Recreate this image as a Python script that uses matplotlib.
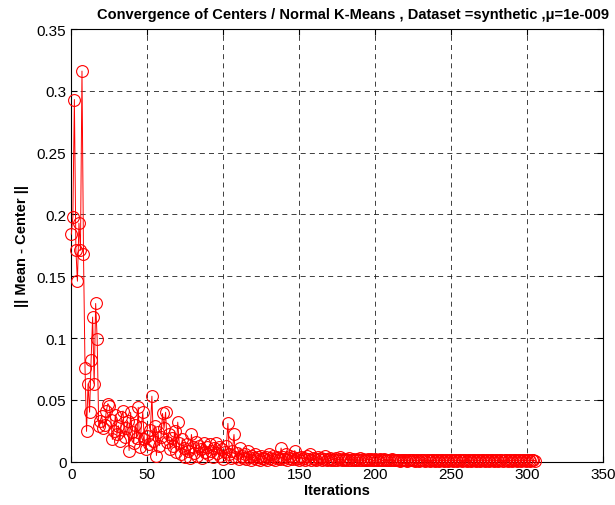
import numpy as np
import matplotlib
matplotlib.use("Agg")
import matplotlib.pyplot as plt
from matplotlib.ticker import FuncFormatter

# distance between mean and center per iteration
dist_start = [
    0.184, 0.198, 0.293, 0.171, 0.146, 0.193, 0.171, 0.316, 0.168, 0.076,
    0.0245, 0.063, 0.040, 0.082, 0.117, 0.063, 0.128, 0.099, 0.029, 0.033,
    0.037, 0.027, 0.030, 0.041, 0.047, 0.045, 0.034, 0.018, 0.025, 0.038,
    0.022, 0.029, 0.017, 0.036, 0.041, 0.020, 0.027, 0.033, 0.009, 0.040,
    0.024, 0.015, 0.030, 0.019, 0.044, 0.012, 0.028, 0.040, 0.018, 0.010,
    0.021, 0.014, 0.026, 0.053, 0.017, 0.029, 0.005, 0.024, 0.013, 0.020,
]
dist_middle = [
    0.039, 0.027, 0.040, 0.016, 0.022, 0.010, 0.019, 0.013, 0.025, 0.008,
    0.032, 0.015, 0.006, 0.018, 0.011, 0.004, 0.014, 0.009, 0.003, 0.022,
    0.012, 0.007, 0.016, 0.005, 0.013, 0.010, 0.003, 0.015, 0.008, 0.012,
    0.006, 0.014, 0.009, 0.004, 0.011, 0.015, 0.007, 0.012, 0.005, 0.010,
    0.002, 0.008, 0.013, 0.031, 0.006, 0.003, 0.009, 0.022, 0.004, 0.007,
    0.002, 0.011, 0.005, 0.003, 0.006, 0.002, 0.009, 0.004, 0.001, 0.005,
    0.003, 0.006, 0.002, 0.004, 0.001, 0.005, 0.003, 0.002, 0.004, 0.001,
    0.006, 0.003, 0.002, 0.005, 0.001, 0.004, 0.003, 0.002, 0.011, 0.004,
    0.002, 0.006, 0.001, 0.003, 0.005, 0.002, 0.004, 0.009, 0.002, 0.003,
    0.001, 0.004, 0.002, 0.003, 0.001, 0.005, 0.002, 0.006, 0.001, 0.003,
    0.002, 0.001, 0.004, 0.002, 0.003, 0.001, 0.002, 0.005, 0.001, 0.002,
    0.003, 0.001, 0.002, 0.001, 0.003, 0.001, 0.002, 0.004, 0.001, 0.002,
    0.001, 0.002, 0.001, 0.003, 0.001, 0.002, 0.001, 0.001, 0.002, 0.001,
    0.003, 0.001, 0.002, 0.001, 0.001, 0.002, 0.001, 0.002, 0.001, 0.001,
    0.002, 0.001, 0.001, 0.002, 0.001, 0.001, 0.002, 0.001, 0.001, 0.001,
]
dist_tail = [
    0.001, 0.002, 0.001, 0.001, 0.0015, 0.001, 0.0008, 0.0012, 0.001, 0.0015,
    0.001, 0.0008, 0.0012, 0.001, 0.0015, 0.001, 0.0009, 0.0012, 0.001, 0.0008,
    0.0012, 0.001, 0.0014, 0.0009, 0.001, 0.0012, 0.0008, 0.001, 0.0013, 0.0009,
    0.001, 0.0012, 0.0008, 0.001, 0.0011, 0.0009, 0.0012, 0.001, 0.0008, 0.0011,
    0.001, 0.0009, 0.0012, 0.001, 0.0008, 0.0011, 0.001, 0.0009, 0.0012, 0.001,
    0.0008, 0.0011, 0.001, 0.0009, 0.0012, 0.001, 0.0008, 0.0011, 0.001, 0.0009,
    0.0012, 0.001, 0.0008, 0.0011, 0.001, 0.0009, 0.0012, 0.001, 0.0008, 0.0011,
    0.001, 0.0009, 0.0012, 0.001, 0.0008, 0.0011, 0.001, 0.0009, 0.0012, 0.001,
    0.0008, 0.0011, 0.001, 0.0009, 0.0012, 0.001, 0.0008, 0.0011, 0.001, 0.0009,
    0.0012, 0.001, 0.0008, 0.0011, 0.001, 0.0009,
]
dist = dist_start + dist_middle + dist_tail
iterations = np.arange(len(dist))

x_ticks = [0, 50, 100, 150, 200, 250, 300, 350]
y_ticks = [0, 0.05, 0.1, 0.15, 0.2, 0.25, 0.3, 0.35]

plt.rcParams["font.family"] = ["Liberation Sans", "DejaVu Sans"]

fig = plt.figure(figsize=(6.15, 5.06), dpi=100)
ax = fig.add_axes([0.116, 0.0856, 0.865, 0.855])

ax.plot(iterations, dist, color="red", lw=0.7, marker="o", ms=8.5,
        mfc="none", mec="red", mew=0.8, clip_on=False, zorder=3)

ax.set_xlim(0, 350)
ax.set_ylim(0, 0.35)
ax.set_xticks(x_ticks)
ax.set_yticks(y_ticks)
ax.yaxis.set_major_formatter(FuncFormatter(lambda v, p: f"{v:g}"))
ax.tick_params(direction="in", length=4, labelsize=11, top=True, right=True,
               labeltop=False, labelright=False)
ax.grid(True, color="#202020", linestyle=(0, (6, 5)), linewidth=0.6)
for s in ax.spines.values():
    s.set_linewidth(0.8)

ax.set_xlabel("Iterations", fontsize=10.5, fontweight="bold", labelpad=2)
ax.set_ylabel("|| Mean - Center ||", fontsize=10.5, fontweight="bold", labelpad=6)
ax.set_title("Convergence of Centers / Normal K-Means , Dataset =synthetic ,\u03bc=1e-009",
             fontsize=10.5, fontweight="bold", pad=8, x=0.53)

fig.savefig("out.png", dpi=100)
